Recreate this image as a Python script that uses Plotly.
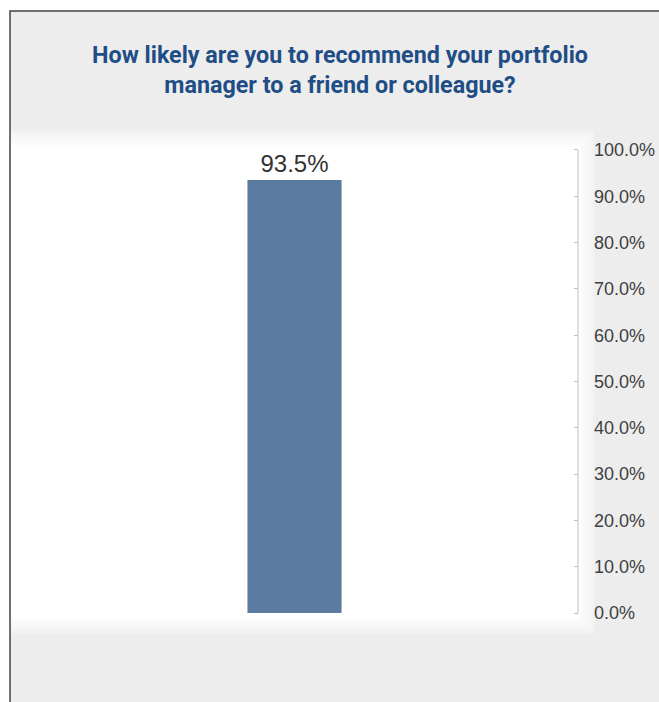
import plotly.graph_objects as go

# Survey result
categories = ["Likely to recommend"]
values = [0.935]
tick_vals = [0.0, 0.1, 0.2, 0.3, 0.4, 0.5, 0.6, 0.7, 0.8, 0.9, 1.0]
tick_text = ["0.0%", "10.0%", "20.0%", "30.0%", "40.0%", "50.0%",
             "60.0%", "70.0%", "80.0%", "90.0%", "100.0%"]
title_text = "How likely are you to recommend your portfolio<br>manager to a friend or colleague?"

W, H = 659, 702
ML, MR, MT, MB = 11, 81, 143, 82
PW, PH = W - ML - MR, H - MT - MB


def px_x(p):
    return (p - ML) / PW


def px_y(p):
    return (H - MB - p) / PH


fig = go.Figure()
fig.add_trace(go.Bar(
    x=categories,
    y=values,
    width=0.166,
    marker=dict(color="#5b7ba1", line=dict(width=0)),
    text=[f"{v * 100:.1f}%" for v in values],
    textposition="outside",
    textfont=dict(family="Liberation Sans, Arial, sans-serif", size=24, color="#333333"),
    cliponaxis=False,
    hoverinfo="skip",
))

shapes = []
# grey panel with dark frame
shapes.append(dict(type="rect", xref="paper", yref="paper", layer="below",
                   x0=px_x(10), x1=px_x(W + 20), y0=px_y(11), y1=px_y(H + 20),
                   fillcolor="#ededed", line=dict(color="#444444", width=1.5)))
# soft white glow around the plotting area
for i in range(7, 0, -1):
    g = 2.2 * i
    shapes.append(dict(type="rect", xref="paper", yref="paper", layer="below",
                       x0=px_x(11), x1=px_x(580 + g), y0=px_y(145 - g), y1=px_y(618 + g),
                       fillcolor="white", opacity=0.22, line=dict(width=0)))
shapes.append(dict(type="rect", xref="paper", yref="paper", layer="below",
                   x0=px_x(11), x1=px_x(580), y0=px_y(145), y1=px_y(618),
                   fillcolor="white", line=dict(width=0)))
# value axis line spanning 0-100%
shapes.append(dict(type="line", xref="paper", yref="y", layer="above",
                   x0=1, x1=1, y0=0, y1=1, line=dict(color="#bfbfbf", width=1)))

fig.update_layout(
    width=W, height=H,
    margin=dict(l=ML, r=MR, t=MT, b=MB, pad=0, autoexpand=False),
    paper_bgcolor="white",
    plot_bgcolor="rgba(0,0,0,0)",
    showlegend=False,
    shapes=shapes,
    title=dict(
        text=title_text,
        x=340 / W, xanchor="center", xref="container",
        y=1 - 63 / H, yanchor="top", yref="container",
        font=dict(family="Roboto, Liberation Sans, sans-serif",
                  size=23.3, color="#1f4e87", weight="bold"),
    ),
    xaxis=dict(visible=False, range=[-0.5, 0.5], automargin=False),
    yaxis=dict(
        side="right",
        automargin=False,
        range=[-0.0151, 1.0151],
        tickvals=tick_vals,
        ticktext=tick_text,
        ticks="inside",
        ticklen=4,
        tickcolor="#bfbfbf",
        showline=False,
        showgrid=False,
        zeroline=False,
        ticklabelstandoff=15,
        tickfont=dict(family="Liberation Sans, Arial, sans-serif", size=18, color="#404040"),
    ),
)

fig.write_html("out.html")
